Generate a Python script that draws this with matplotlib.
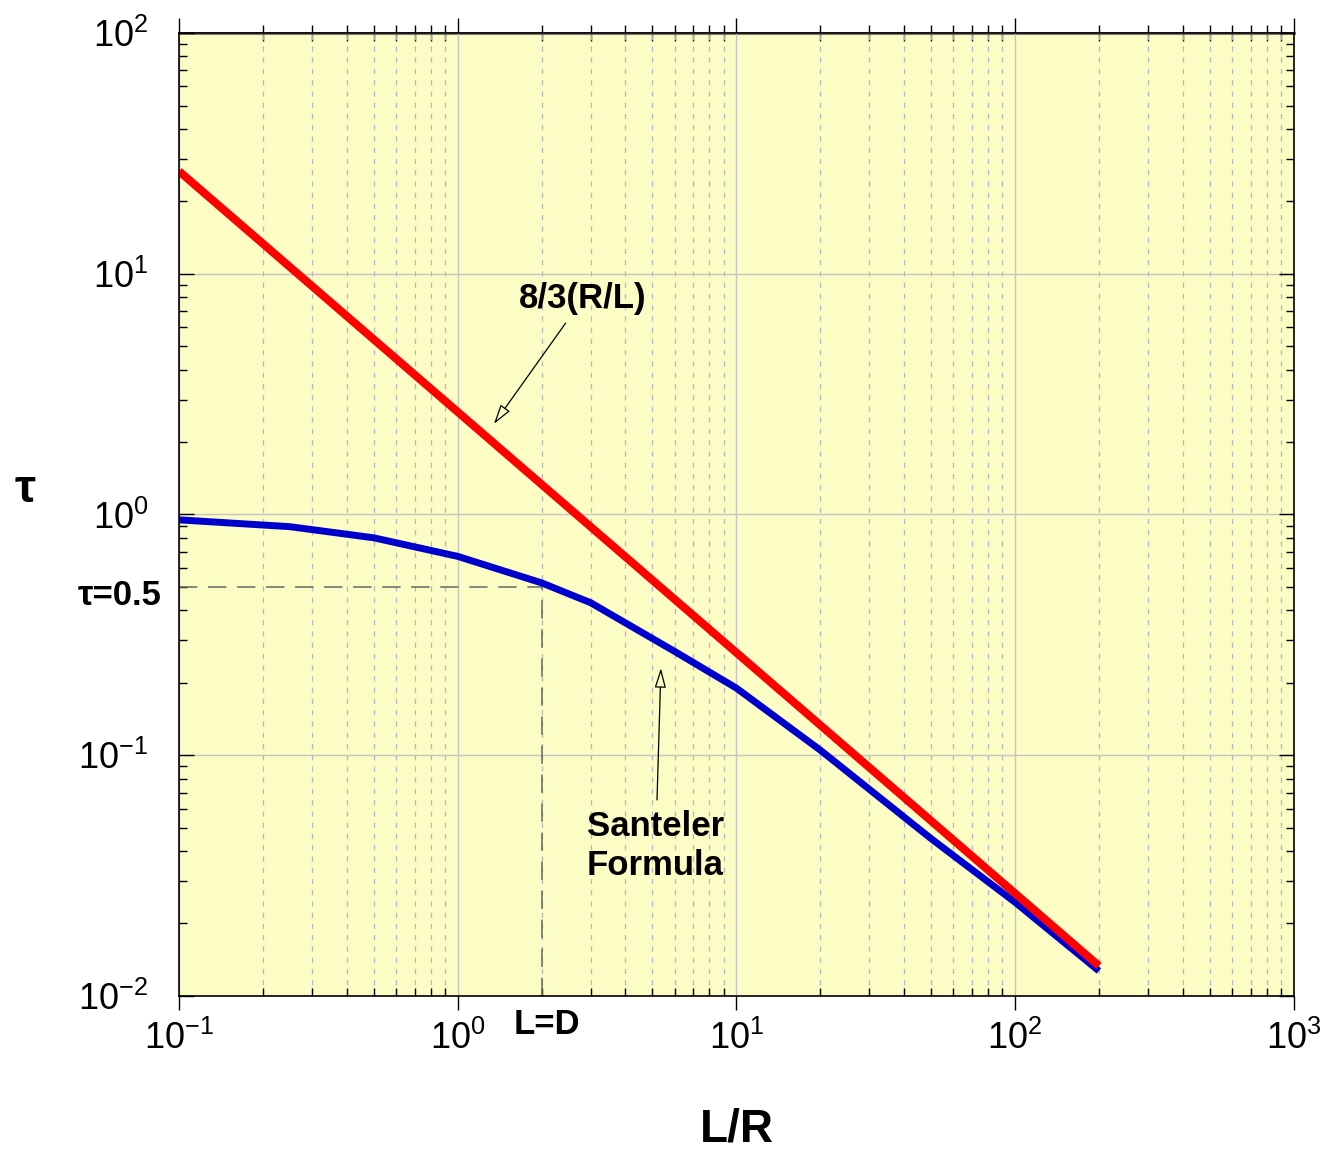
import matplotlib
matplotlib.use("Agg")
import matplotlib.pyplot as plt
from matplotlib.ticker import LogLocator, NullFormatter

plt.rcParams['font.family'] = ['Liberation Sans', 'DejaVu Sans']
plt.rcParams['mathtext.fontset'] = 'custom'
plt.rcParams['mathtext.rm'] = 'Liberation Sans'
plt.rcParams['mathtext.default'] = 'regular'
plt.rcParams['axes.unicode_minus'] = False

# 8/3(R/L) curve
red_x = [0.1, 1, 10, 100, 200]
red_y = [26.67, 2.667, 0.2667, 0.02667, 0.01333]

# Santeler formula curve
blue_x = [0.1, 0.25, 0.5, 1, 2, 3, 6, 10, 20, 50, 100, 200]
blue_y = [0.95, 0.89, 0.80, 0.67, 0.52, 0.43, 0.27, 0.19, 0.105, 0.045, 0.0245, 0.0127]

ref_x = 2.0    # L = D
ref_y = 0.5    # tau = 0.5

bg = '#fcfcc5'

fig = plt.figure(figsize=(13.26, 11.55), dpi=100)
ax = fig.add_axes([0.135, 0.1377, 0.8407, 0.8337])
ax.set_facecolor(bg)
ax.set_xscale('log')
ax.set_yscale('log')
ax.set_xlim(0.1, 1000)
ax.set_ylim(0.01, 100)

ax.xaxis.set_major_locator(LogLocator(base=10, numticks=10))
ax.xaxis.set_minor_locator(LogLocator(base=10, subs=range(2, 10), numticks=20))
ax.yaxis.set_minor_locator(LogLocator(base=10, subs=range(2, 10), numticks=20))
ax.xaxis.set_minor_formatter(NullFormatter())
ax.yaxis.set_minor_formatter(NullFormatter())

ax.grid(True, which='major', color='#c4c4c4', lw=1.0, ls='-')
ax.grid(True, which='minor', axis='x', color='#b4b4c4', lw=0.9, ls=(0, (4, 5)))
ax.set_axisbelow(True)

ax.tick_params(axis='x', which='major', direction='out', length=10, width=1,
               labelsize=26, pad=8, top=False)
ax.tick_params(axis='x', which='minor', direction='in', length=6, width=1, top=False)
ax.tick_params(axis='y', which='major', direction='in', length=11, width=1,
               labelsize=26, pad=22, right=True)
ax.tick_params(axis='y', which='minor', direction='in', length=6, width=1, right=True)

top = ax.secondary_xaxis('top')
top.xaxis.set_major_locator(LogLocator(base=10, numticks=10))
top.xaxis.set_minor_locator(LogLocator(base=10, subs=range(2, 10), numticks=20))
top.tick_params(which='major', direction='out', length=11, width=1, labeltop=False)
top.tick_params(which='minor', direction='inout', length=11, width=1)
top.xaxis.set_major_formatter(NullFormatter())
top.xaxis.set_minor_formatter(NullFormatter())

for s in ax.spines.values():
    s.set_linewidth(1.2)
top.spines['top'].set_color('#555555')
top.spines['top'].set_linewidth(2)

# dashed guide lines for tau = 0.5 at L = D
ax.plot([0.1, ref_x], [ref_y, ref_y], color='#666666', lw=1.1, ls=(0, (12, 7)))
ax.plot([ref_x, ref_x], [0.01, ref_y], color='#666666', lw=1.1, ls=(0, (12, 7)))

ax.plot(blue_x, blue_y, color='#0000cc', lw=5, solid_capstyle='butt')
ax.plot(red_x, red_y, color='#ff0000', lw=5.8, solid_capstyle='butt')

arrow = dict(arrowstyle='-|>,head_length=1.2,head_width=0.35', fc=bg, ec='black',
             lw=0.9, shrinkA=0, shrinkB=0)
ax.annotate('', xy=(1.349, 2.38), xytext=(2.44, 6.24), arrowprops=arrow)
ax.text(2.81, 7.93, '8/3(R/L)', fontsize=25, fontweight='bold', ha='center', va='center')

ax.annotate('', xy=(5.36, 0.230), xytext=(5.19, 0.0652), arrowprops=arrow)
ax.text(2.91, 0.0420, 'Santeler\nFormula', fontsize=25, fontweight='bold',
        ha='left', va='center', linespacing=1.2)

fig.text(0.1222, 0.484, 'τ=0.5', fontsize=25, fontweight='bold', ha='right', va='center')
fig.text(0.4125, 0.1126, 'L=D', fontsize=25, fontweight='bold', ha='center', va='center')
fig.text(0.019, 0.576, 'τ', fontsize=34, fontweight='bold', ha='center', va='center')
fig.text(0.556, 0.003, 'L/R', fontsize=33, fontweight='bold', ha='center', va='bottom')

fig.savefig('out.png', dpi=100)
